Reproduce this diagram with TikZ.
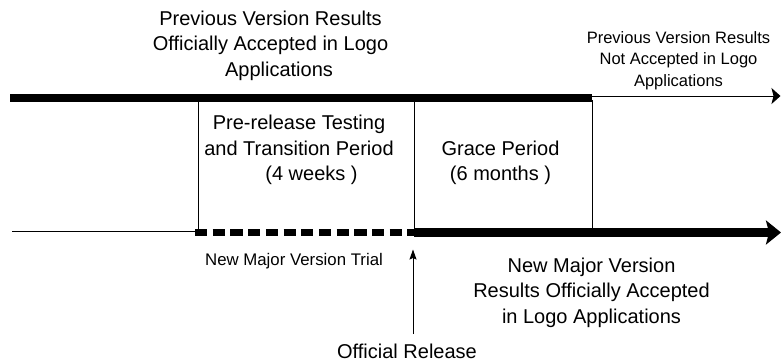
\documentclass[tikz,border=0pt]{standalone}
\usepackage{fontspec}
\setmainfont{Liberation Sans}
\usetikzlibrary{arrows.meta}
\begin{document}
\begin{tikzpicture}[x=1pt,y=-1pt,
  thinline/.style={line width=1pt,draw=black},
  thickline/.style={line width=8pt,draw=black},
  trialline/.style={line width=6.5pt,draw=black,dash pattern=on 12.2pt off 5.5pt},
  txt/.style={align=center,inner sep=0pt,text=black}
]
\useasboundingbox (0,0) rectangle (781,362);

% coordinates of the time lines
\coordinate (topL) at (10,97.5);
\coordinate (topM) at (592,97.5);
\coordinate (topThinA) at (592,96);
\coordinate (topR) at (780.5,96);
\coordinate (v1t) at (198,100);
\coordinate (v1b) at (198,232);
\coordinate (v2t) at (414,100);
\coordinate (v2b) at (414,232);
\coordinate (v3t) at (592,100);
\coordinate (v3b) at (592,232);
\coordinate (botL) at (12,231);
\coordinate (botA) at (198,231);
\coordinate (dA) at (195,232.5);
\coordinate (dB) at (418,232.5);
\coordinate (sA) at (414,232.5);
\coordinate (botR) at (781,232.5);
\coordinate (relB) at (413,334);
\coordinate (relT) at (413,249.5);

% vertical separators
\draw[thinline] (v1t) -- (v1b);
\draw[thinline] (v2t) -- (v2b);
\draw[thinline] (v3t) -- (v3b);

% top time line
\draw[thickline] (topL) -- (topM);
\draw[thinline,-{Stealth[length=9pt,width=16pt,inset=2pt]}] (topThinA) -- (topR);

% bottom time line
\draw[thinline] (botL) -- (botA);
\draw[trialline] (dA) -- (dB);
\draw[line width=9pt,-{Stealth[length=15pt,width=24pt,inset=3pt]}] (sA) -- (botR);

% official release arrow
\draw[thinline,-{Stealth[length=10pt,width=7pt,inset=1.5pt]}] (relB) -- (relT);

% texts
\node[txt,font=\fontsize{20}{25.5}\selectfont] (prevOK) at (270.5,45.4)
  {\strut Previous Version Results\\\strut Officially Accepted in Logo\\\strut\hspace*{17pt}Applications};
\node[txt,font=\fontsize{16.5}{21.5}\selectfont] (prevNO) at (678.5,60.2)
  {\strut Previous Version Results\\\strut Not Accepted in Logo\\\strut Applications};
\node[txt,font=\fontsize{20}{25.5}\selectfont] (pre) at (299,149.9)
  {\strut Pre-release Testing\\\strut and Transition Period\\\strut\hspace*{25pt}(4 weeks )};
\node[txt,font=\fontsize{20}{25.5}\selectfont] (grace) at (500.5,162.65)
  {\strut Grace Period\\\strut (6 months )};
\node[txt,font=\fontsize{16.8}{20}\selectfont,anchor=base] (trial) at (294,265)
  {New Major Version Trial};
\node[txt,font=\fontsize{20}{25.75}\selectfont] (newOK) at (591.5,292.6)
  {\strut New Major Version\\\strut Results Officially Accepted\\\strut in Logo Applications};
\node[txt,font=\fontsize{20}{24}\selectfont,anchor=base] (release) at (407,358)
  {Official Release};
\end{tikzpicture}
\end{document}
